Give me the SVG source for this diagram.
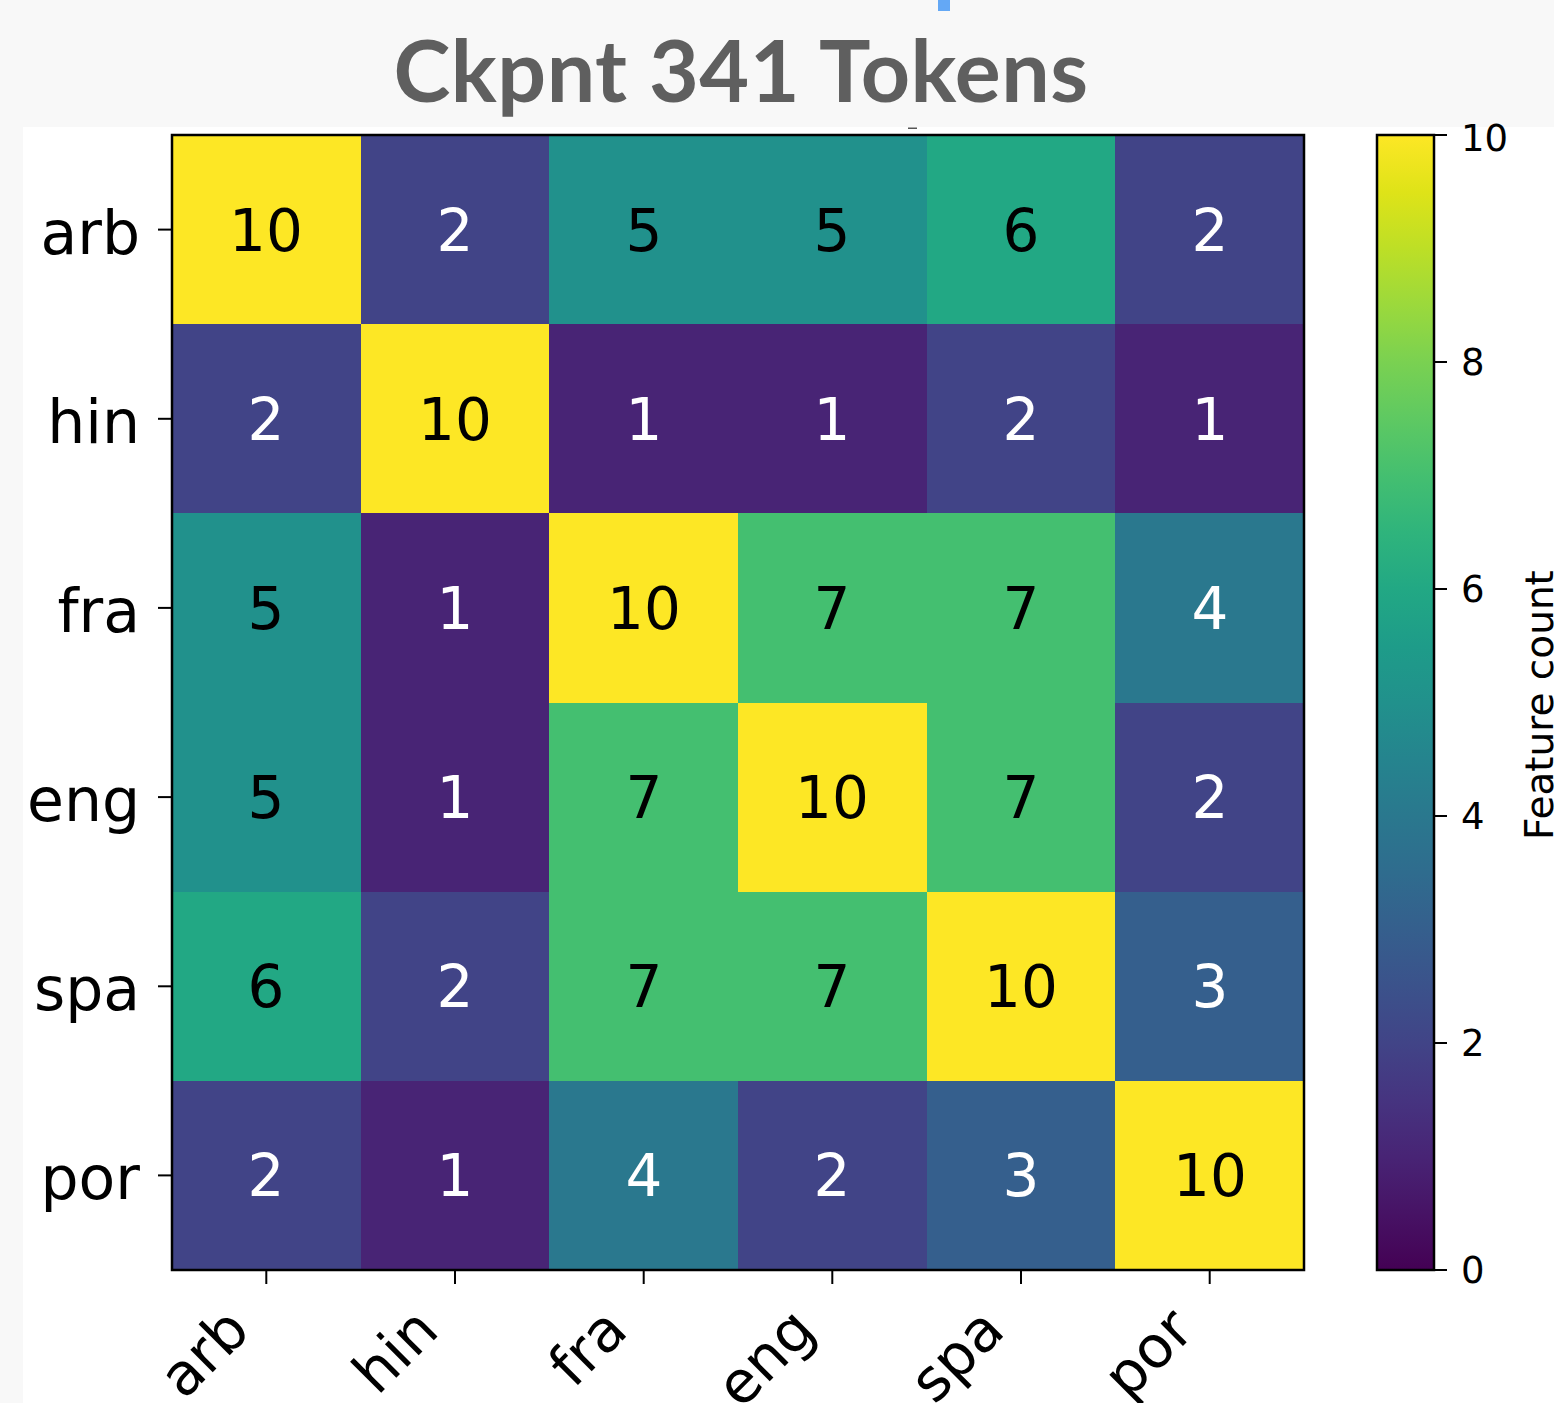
<svg xmlns="http://www.w3.org/2000/svg" width="1554" height="1403" viewBox="0 0 1554 1403">
  <defs>
    <!-- viridis colormap, 0 at the bottom, 10 at the top -->
    <linearGradient id="viridis" x1="0" y1="1" x2="0" y2="0">
      <stop offset="0.00" stop-color="#440154"/>
      <stop offset="0.05" stop-color="#471365"/>
      <stop offset="0.10" stop-color="#482475"/>
      <stop offset="0.15" stop-color="#463480"/>
      <stop offset="0.20" stop-color="#414487"/>
      <stop offset="0.25" stop-color="#3b528b"/>
      <stop offset="0.30" stop-color="#355f8d"/>
      <stop offset="0.35" stop-color="#2f6c8e"/>
      <stop offset="0.40" stop-color="#2a788e"/>
      <stop offset="0.45" stop-color="#25848e"/>
      <stop offset="0.50" stop-color="#21918c"/>
      <stop offset="0.55" stop-color="#1e9c89"/>
      <stop offset="0.60" stop-color="#22a884"/>
      <stop offset="0.65" stop-color="#2fb47c"/>
      <stop offset="0.70" stop-color="#44bf70"/>
      <stop offset="0.75" stop-color="#5ec962"/>
      <stop offset="0.80" stop-color="#7ad151"/>
      <stop offset="0.85" stop-color="#9bd93c"/>
      <stop offset="0.90" stop-color="#bddf26"/>
      <stop offset="0.95" stop-color="#dfe318"/>
      <stop offset="1.00" stop-color="#fde725"/>
    </linearGradient>
  </defs>
  <style>
    .title { font-family: Lato, "Open Sans", sans-serif; font-weight: 700; font-size: 86px; letter-spacing: 0.5px; fill: #5f5f5f; }
    .mpl { font-family: "DejaVu Sans", sans-serif; }
    .cell { shape-rendering: crispEdges; }
    .v1 { fill: #482475; } .v2 { fill: #414487; } .v3 { fill: #355f8d; }
    .v4 { fill: #2a788e; } .v5 { fill: #21918c; } .v6 { fill: #22a884; }
    .v7 { fill: #44bf70; } .v10 { fill: #fde725; }
    .num { font-size: 58px; text-anchor: middle; }
    .lt { fill: #ffffff; } .dk { fill: #000000; }
    .ylab { font-size: 60px; text-anchor: end; fill: #000; }
    .xlab { font-size: 58px; text-anchor: end; fill: #000; }
    .cbl { font-size: 37px; fill: #000; }
    .cbtitle { font-size: 39px; fill: #000; }
    .tick { stroke: #000; stroke-width: 2; }
    .frame { fill: none; stroke: #000; stroke-width: 2.5; }
  </style>

  <!-- page background and figure panel -->
  <rect x="0" y="0" width="1554" height="1403" fill="#f8f8f8"/>
  <rect x="23" y="127" width="1531" height="1276" fill="#ffffff"/>
  <rect x="938" y="0" width="12" height="11" fill="#64a8f5"/>
  <rect x="908" y="127.5" width="9" height="1.5" fill="#555"/>

  <g id="title">
    <text class="title" x="741" y="102" text-anchor="middle">Ckpnt 341 Tokens</text>
  </g>

  <!-- heatmap cells: rows arb, hin, fra, eng, spa, por -->
  <g id="heatmap" class="cell">
    <rect class="v10" x="172" y="135" width="189" height="190"/>
    <rect class="v2" x="360.67" y="135" width="189" height="190"/>
    <rect class="v5" x="549.33" y="135" width="189" height="190"/>
    <rect class="v5" x="738" y="135" width="189" height="190"/>
    <rect class="v6" x="926.67" y="135" width="189" height="190"/>
    <rect class="v2" x="1115.33" y="135" width="188.67" height="190"/>

    <rect class="v2" x="172" y="324.17" width="189" height="190"/>
    <rect class="v10" x="360.67" y="324.17" width="189" height="190"/>
    <rect class="v1" x="549.33" y="324.17" width="189" height="190"/>
    <rect class="v1" x="738" y="324.17" width="189" height="190"/>
    <rect class="v2" x="926.67" y="324.17" width="189" height="190"/>
    <rect class="v1" x="1115.33" y="324.17" width="188.67" height="190"/>

    <rect class="v5" x="172" y="513.33" width="189" height="190"/>
    <rect class="v1" x="360.67" y="513.33" width="189" height="190"/>
    <rect class="v10" x="549.33" y="513.33" width="189" height="190"/>
    <rect class="v7" x="738" y="513.33" width="189" height="190"/>
    <rect class="v7" x="926.67" y="513.33" width="189" height="190"/>
    <rect class="v4" x="1115.33" y="513.33" width="188.67" height="190"/>

    <rect class="v5" x="172" y="702.5" width="189" height="190"/>
    <rect class="v1" x="360.67" y="702.5" width="189" height="190"/>
    <rect class="v7" x="549.33" y="702.5" width="189" height="190"/>
    <rect class="v10" x="738" y="702.5" width="189" height="190"/>
    <rect class="v7" x="926.67" y="702.5" width="189" height="190"/>
    <rect class="v2" x="1115.33" y="702.5" width="188.67" height="190"/>

    <rect class="v6" x="172" y="891.67" width="189" height="190"/>
    <rect class="v2" x="360.67" y="891.67" width="189" height="190"/>
    <rect class="v7" x="549.33" y="891.67" width="189" height="190"/>
    <rect class="v7" x="738" y="891.67" width="189" height="190"/>
    <rect class="v10" x="926.67" y="891.67" width="189" height="190"/>
    <rect class="v3" x="1115.33" y="891.67" width="188.67" height="190"/>

    <rect class="v2" x="172" y="1080.83" width="189" height="189.17"/>
    <rect class="v1" x="360.67" y="1080.83" width="189" height="189.17"/>
    <rect class="v4" x="549.33" y="1080.83" width="189" height="189.17"/>
    <rect class="v2" x="738" y="1080.83" width="189" height="189.17"/>
    <rect class="v3" x="926.67" y="1080.83" width="189" height="189.17"/>
    <rect class="v10" x="1115.33" y="1080.83" width="188.67" height="189.17"/>
  </g>

  <!-- cell annotations -->
  <g id="values" class="mpl">
    <text class="num dk" x="266" y="251">10</text>
    <text class="num lt" x="455" y="251">2</text>
    <text class="num dk" x="644" y="251">5</text>
    <text class="num dk" x="832" y="251">5</text>
    <text class="num dk" x="1021" y="251">6</text>
    <text class="num lt" x="1210" y="251">2</text>

    <text class="num lt" x="266" y="440">2</text>
    <text class="num dk" x="455" y="440">10</text>
    <text class="num lt" x="644" y="440">1</text>
    <text class="num lt" x="832" y="440">1</text>
    <text class="num lt" x="1021" y="440">2</text>
    <text class="num lt" x="1210" y="440">1</text>

    <text class="num dk" x="266" y="629">5</text>
    <text class="num lt" x="455" y="629">1</text>
    <text class="num dk" x="644" y="629">10</text>
    <text class="num dk" x="832" y="629">7</text>
    <text class="num dk" x="1021" y="629">7</text>
    <text class="num lt" x="1210" y="629">4</text>

    <text class="num dk" x="266" y="818">5</text>
    <text class="num lt" x="455" y="818">1</text>
    <text class="num dk" x="644" y="818">7</text>
    <text class="num dk" x="832" y="818">10</text>
    <text class="num dk" x="1021" y="818">7</text>
    <text class="num lt" x="1210" y="818">2</text>

    <text class="num dk" x="266" y="1007">6</text>
    <text class="num lt" x="455" y="1007">2</text>
    <text class="num dk" x="644" y="1007">7</text>
    <text class="num dk" x="832" y="1007">7</text>
    <text class="num dk" x="1021" y="1007">10</text>
    <text class="num lt" x="1210" y="1007">3</text>

    <text class="num lt" x="266" y="1196">2</text>
    <text class="num lt" x="455" y="1196">1</text>
    <text class="num lt" x="644" y="1196">4</text>
    <text class="num lt" x="832" y="1196">2</text>
    <text class="num lt" x="1021" y="1196">3</text>
    <text class="num dk" x="1210" y="1196">10</text>
  </g>

  <rect class="frame" x="172" y="135" width="1132" height="1135"/>

  <!-- y axis -->
  <g id="y-axis" class="mpl">
    <line class="tick" x1="158" y1="229.6" x2="172" y2="229.6"/>
    <line class="tick" x1="158" y1="418.8" x2="172" y2="418.8"/>
    <line class="tick" x1="158" y1="607.9" x2="172" y2="607.9"/>
    <line class="tick" x1="158" y1="797.1" x2="172" y2="797.1"/>
    <line class="tick" x1="158" y1="986.3" x2="172" y2="986.3"/>
    <line class="tick" x1="158" y1="1175.4" x2="172" y2="1175.4"/>
    <text class="ylab" x="140" y="254">arb</text>
    <text class="ylab" x="140" y="443">hin</text>
    <text class="ylab" x="140" y="632">fra</text>
    <text class="ylab" x="140" y="821">eng</text>
    <text class="ylab" x="140" y="1010">spa</text>
    <text class="ylab" x="140" y="1199">por</text>
  </g>

  <!-- x axis -->
  <g id="x-axis" class="mpl">
    <line class="tick" x1="266.3" y1="1270" x2="266.3" y2="1284"/>
    <line class="tick" x1="455" y1="1270" x2="455" y2="1284"/>
    <line class="tick" x1="643.7" y1="1270" x2="643.7" y2="1284"/>
    <line class="tick" x1="832.3" y1="1270" x2="832.3" y2="1284"/>
    <line class="tick" x1="1021" y1="1270" x2="1021" y2="1284"/>
    <line class="tick" x1="1209.7" y1="1270" x2="1209.7" y2="1284"/>
    <text class="xlab" x="252" y="1333" transform="rotate(-45 252 1333)">arb</text>
    <text class="xlab" x="441" y="1333" transform="rotate(-45 441 1333)">hin</text>
    <text class="xlab" x="630" y="1333" transform="rotate(-45 630 1333)">fra</text>
    <text class="xlab" x="818" y="1333" transform="rotate(-45 818 1333)">eng</text>
    <text class="xlab" x="1007" y="1333" transform="rotate(-45 1007 1333)">spa</text>
    <text class="xlab" x="1196" y="1333" transform="rotate(-45 1196 1333)">por</text>
  </g>

  <!-- colorbar -->
  <g id="colorbar" class="mpl">
    <rect x="1377" y="135" width="57" height="1135" fill="url(#viridis)"/>
    <rect class="frame" x="1377" y="135" width="57" height="1135"/>
    <line class="tick" x1="1434" y1="1270" x2="1447" y2="1270"/>
    <line class="tick" x1="1434" y1="1043" x2="1447" y2="1043"/>
    <line class="tick" x1="1434" y1="816" x2="1447" y2="816"/>
    <line class="tick" x1="1434" y1="589" x2="1447" y2="589"/>
    <line class="tick" x1="1434" y1="362" x2="1447" y2="362"/>
    <line class="tick" x1="1434" y1="135" x2="1447" y2="135"/>
    <text class="cbl" x="1461" y="1283">0</text>
    <text class="cbl" x="1461" y="1056">2</text>
    <text class="cbl" x="1461" y="829">4</text>
    <text class="cbl" x="1461" y="602">6</text>
    <text class="cbl" x="1461" y="375">8</text>
    <text class="cbl" x="1461" y="151">10</text>
    <text class="cbtitle" x="1553" y="705" text-anchor="middle" transform="rotate(-90 1553 705)">Feature count</text>
  </g>
</svg>
